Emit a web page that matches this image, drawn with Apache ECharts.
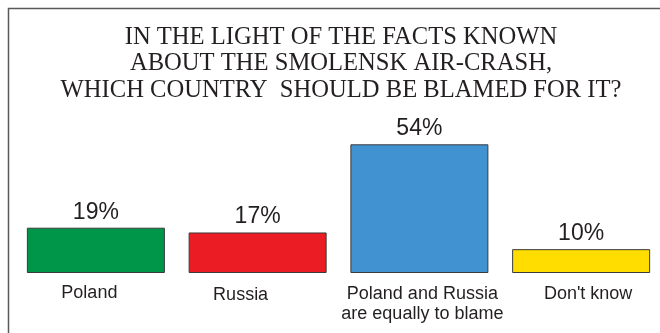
<!DOCTYPE html>
<html>
<head>
<meta charset="utf-8">
<script src="https://cdn.jsdelivr.net/npm/echarts@6/dist/echarts.min.js"></script>
<style>
  html, body { margin: 0; padding: 0; background: #ffffff; }
  #chart { width: 660px; height: 333px; }
</style>
</head>
<body>
<div id="chart"></div>
<script>
// Survey answers and their shares (percent)
const titleLines = [
  'IN THE LIGHT OF THE FACTS KNOWN',
  'ABOUT THE SMOLENSK AIR-CRASH,',
  'WHICH COUNTRY  SHOULD BE BLAMED FOR IT?'
];
const categories = ['Poland', 'Russia', 'Poland and Russia\nare equally to blame', "Don't know"];
const shares = [19, 17, 54, 10];
const barColors = ['#00964a', '#ec1c24', '#4192d0', '#ffdd00'];

const textColor = '#231f20';
const sansFont = '"Liberation Sans", Arial, sans-serif';

// per-category label nudges (rich styles keyed by index)
const labelStyles = {
  c0: { padding: [0, 13, 0, 0] },
  c1: { padding: [5, 34, 0, 0] },
  c2: { padding: [3, 0, 0, 6] },
  c3: { padding: [2, 0, 0, 14] }
};
Object.keys(labelStyles).forEach(function (k) {
  Object.assign(labelStyles[k], {
    fontFamily: sansFont, fontSize: 18, color: textColor, lineHeight: 20
  });
});

const chart = echarts.init(document.getElementById('chart'), null, { renderer: 'canvas' });

chart.setOption({
  animation: false,
  backgroundColor: '#ffffff',
  title: {
    text: titleLines.join('\n'),
    left: 341,
    top: 24,
    padding: 0,
    textAlign: 'center',
    textStyle: {
      fontFamily: '"Liberation Serif", "Times New Roman", serif',
      fontWeight: 'normal',
      fontSize: 24.6,
      lineHeight: 26.5,
      color: textColor
    }
  },
  graphic: [{
    type: 'rect',
    silent: true,
    shape: { x: 8.5, y: 8.5, width: 700, height: 400 },
    style: { fill: 'none', stroke: '#5a5a5a', lineWidth: 1.5 }
  }],
  grid: {
    left: 15,
    width: 647,
    top: 130,
    bottom: 60,
    containLabel: false,
    outerBoundsMode: 'none'
  },
  xAxis: {
    type: 'category',
    data: categories,
    axisLine: { show: false },
    axisTick: { show: false },
    axisLabel: {
      interval: 0,
      margin: 10,
      formatter: function (value, index) {
        return value.split('\n').map(function (line) {
          return '{c' + index + '|' + line + '}';
        }).join('\n');
      },
      rich: labelStyles
    }
  },
  yAxis: {
    type: 'value',
    min: 0,
    max: 60,
    show: false,
    splitLine: { show: false }
  },
  series: [{
    type: 'bar',
    barWidth: 138,
    data: shares.map(function (v, i) {
      return { value: v, itemStyle: { color: barColors[i] } };
    }),
    itemStyle: { borderColor: '#3a3a3a', borderWidth: 1 },
    label: {
      show: true,
      position: 'top',
      distance: 4,
      formatter: '{c}%',
      fontFamily: sansFont,
      fontSize: 23,
      color: textColor
    }
  }]
});
</script>
</body>
</html>
